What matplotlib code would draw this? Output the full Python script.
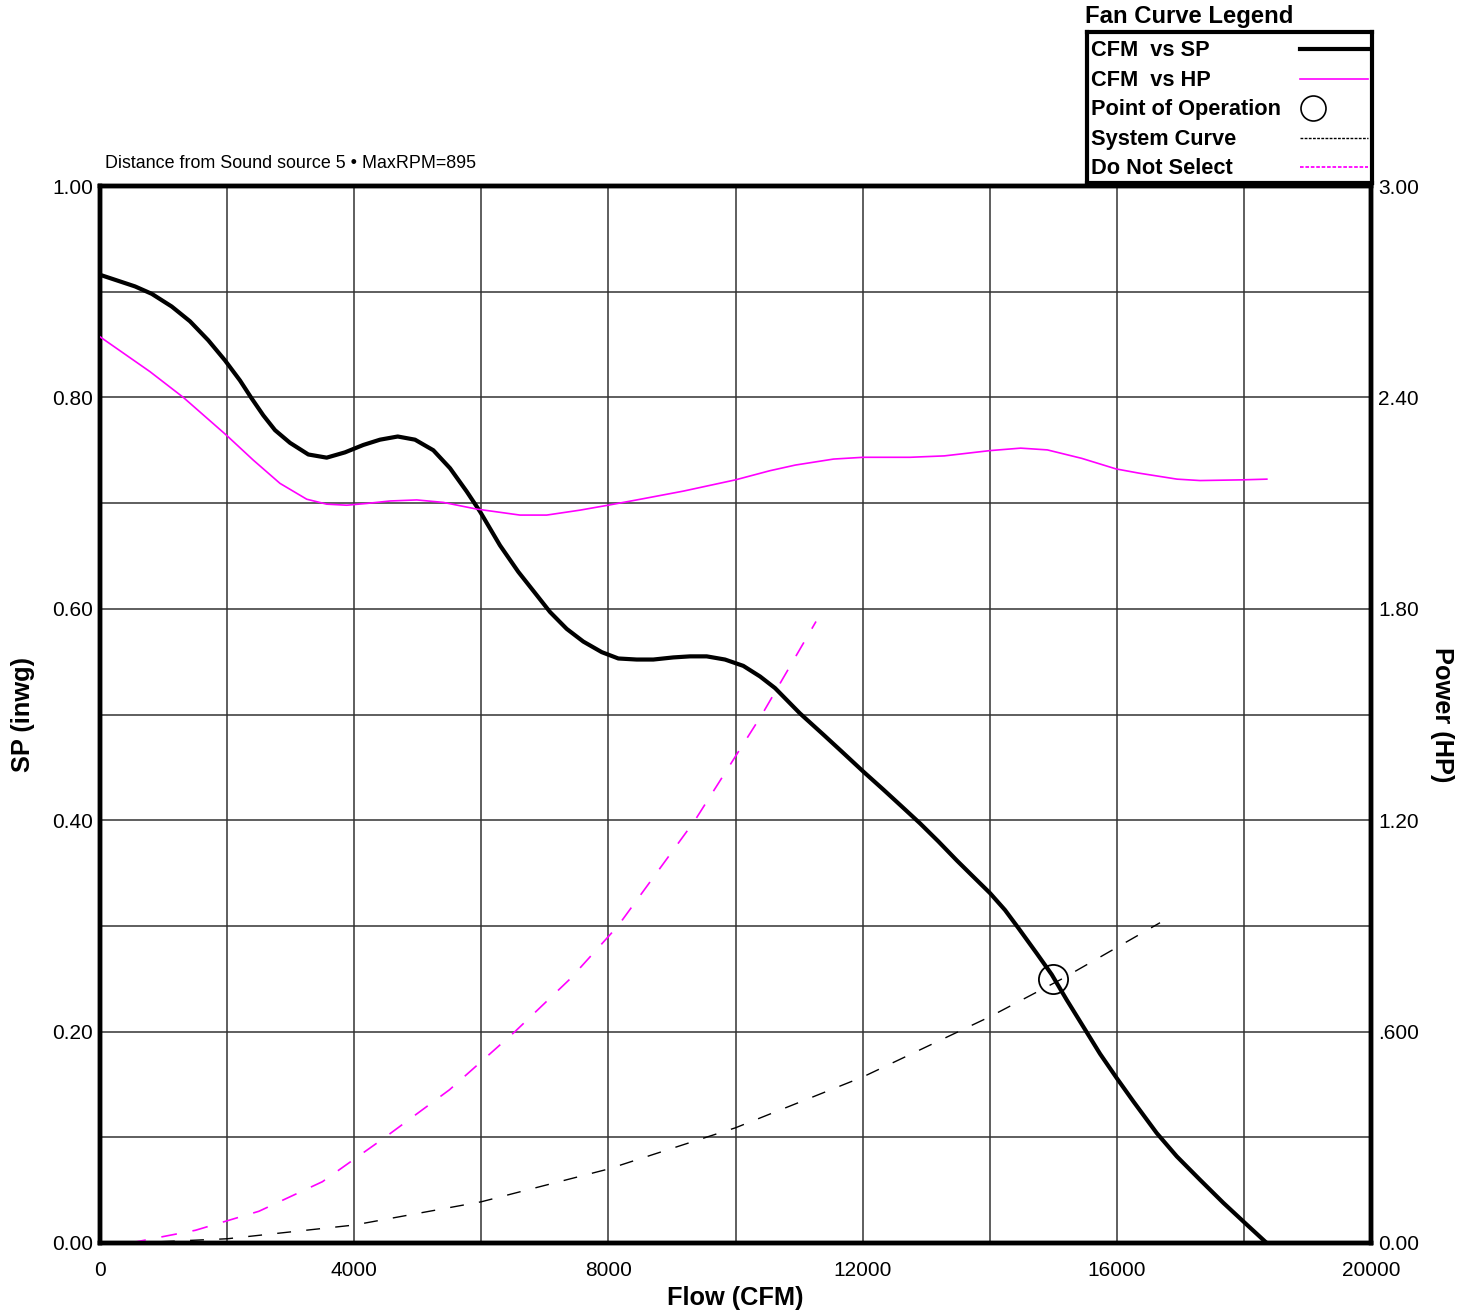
import matplotlib
matplotlib.use("Agg")
import matplotlib.pyplot as plt

plt.rcParams['font.family'] = ['Liberation Sans', 'DejaVu Sans']

# ---- data ----
sp_cfm = [0, 551, 814, 1128, 1416, 1704, 1967, 2203, 2387, 2570, 2754, 2990, 3278, 3567, 3855,
          4143, 4406, 4685, 4957, 5245, 5508, 5770, 5980, 6294, 6582, 6845, 7081, 7344, 7605,
          7895, 8156, 8445, 8707, 9021, 9284, 9547, 9835, 10123, 10386, 10622, 11015, 11382,
          11671, 12011, 12326, 12616, 12904, 13191, 13481, 13717, 14005, 14241, 14451, 14740,
          14976, 15212, 15500, 15736, 15999, 16260, 16628, 16943, 17306, 17676, 18016, 18359]
sp_val = [0.916, 0.905, 0.898, 0.886, 0.872, 0.854, 0.835, 0.816, 0.799, 0.783, 0.769, 0.757,
          0.746, 0.743, 0.748, 0.755, 0.760, 0.763, 0.760, 0.750, 0.733, 0.711, 0.692, 0.660,
          0.635, 0.615, 0.597, 0.581, 0.569, 0.559, 0.553, 0.552, 0.552, 0.554, 0.555, 0.555,
          0.552, 0.546, 0.536, 0.525, 0.501, 0.481, 0.465, 0.446, 0.429, 0.413, 0.397, 0.380,
          0.362, 0.348, 0.331, 0.315, 0.298, 0.274, 0.254, 0.230, 0.202, 0.179, 0.156, 0.134,
          0.104, 0.082, 0.060, 0.038, 0.019, 0.0]

hp_cfm = [0, 787, 1311, 1994, 2412, 2832, 3253, 3567, 3882, 4197, 4563, 4984, 5402, 5928, 6609,
          7029, 7553, 8025, 8446, 9179, 10000, 10543, 10943, 11544, 12007, 12746, 13286, 14005,
          14487, 14907, 15448, 15988, 16350, 16948, 17310, 17971, 18361]
hp_val = [2.572, 2.473, 2.400, 2.292, 2.222, 2.156, 2.111, 2.097, 2.094, 2.099, 2.106, 2.109,
          2.102, 2.083, 2.066, 2.066, 2.080, 2.095, 2.109, 2.134, 2.166, 2.192, 2.208, 2.225,
          2.230, 2.230, 2.234, 2.249, 2.256, 2.251, 2.227, 2.197, 2.185, 2.168, 2.164, 2.166,
          2.168]

sys_cfm = [500, 2000, 4000, 6000, 8000, 10000, 12000, 14000, 15141, 16680]
sys_sp = [0.0, 0.004, 0.017, 0.039, 0.070, 0.109, 0.157, 0.214, 0.250, 0.303]

dns_cfm = [476, 1500, 2500, 3500, 4486, 5500, 6530, 7400, 8151, 9363, 10417, 11267]
dns_sp = [0.0, 0.012, 0.030, 0.058, 0.100, 0.145, 0.200, 0.250, 0.300, 0.400, 0.500, 0.588]

op_cfm = [15000]
op_sp = [0.250]

x_ticks = [0, 4000, 8000, 12000, 16000, 20000]
x_grid = [2000, 6000, 10000, 14000, 18000]
y_ticks = [0.0, 0.2, 0.4, 0.6, 0.8, 1.0]
y_labels = ["0.00", "0.20", "0.40", "0.60", "0.80", "1.00"]
y_grid = [0.1, 0.3, 0.5, 0.7, 0.9]
hp_ticks = [0.0, 0.6, 1.2, 1.8, 2.4, 3.0]
hp_labels = ["0.00", ".600", "1.20", "1.80", "2.40", "3.00"]

legend_labels = ["CFM  vs SP", "CFM  vs HP", "Point of Operation", "System Curve", "Do Not Select"]

MAG = "#ff00ff"

fig = plt.figure(figsize=(14.71, 13.10), dpi=100)
L, R, B, T = 100 / 1471, 1371 / 1471, 1 - 1243 / 1310, 1 - 186 / 1310
ax = fig.add_axes([L, B, R - L, T - B])
ax.set_xlim(0, 20000)
ax.set_ylim(0, 1.0)

for g in x_ticks[1:-1] + x_grid:
    ax.axvline(g, color="#333333", lw=1.1, zorder=1)
for g in y_ticks[1:-1] + y_grid:
    ax.axhline(g, color="#333333", lw=1.1, zorder=1)

ax.plot(sys_cfm, sys_sp, color="black", lw=1.0, ls=(0, (10, 11)), zorder=3)
ax.plot(dns_cfm, dns_sp, color=MAG, lw=1.2, ls=(0, (9.5, 9.5)), zorder=3)
ax.plot(sp_cfm, sp_val, color="black", lw=3.0, zorder=4, solid_joinstyle="round",
        solid_capstyle="butt")
ax.plot(op_cfm, op_sp, "o", ms=21, mfc="none", mec="black", mew=1.3, zorder=5)

ax.set_xticks(x_ticks)
ax.set_xticklabels([str(v) for v in x_ticks])
ax.set_yticks(y_ticks)
ax.set_yticklabels(y_labels)
ax.tick_params(axis="y", length=0, labelsize=15, pad=5)
ax.tick_params(axis="x", length=0, labelsize=15, pad=13)
for s in ax.spines.values():
    s.set_linewidth(3.2)
ax.set_xlabel("Flow (CFM)", fontsize=18.3, fontweight="bold", labelpad=4)
ax.set_ylabel("SP (inwg)", fontsize=18.3, fontweight="bold", labelpad=12)

ax2 = ax.twinx()
ax2.set_ylim(0, 3.0)
ax2.plot(hp_cfm, hp_val, color=MAG, lw=1.2, zorder=3, solid_joinstyle="round")
ax2.set_yticks(hp_ticks)
ax2.set_yticklabels(hp_labels)
ax2.tick_params(length=0, labelsize=15, pad=5)
for s in ax2.spines.values():
    s.set_linewidth(3.2)
ax2.set_ylabel("Power (HP)", fontsize=18.3, fontweight="bold", rotation=270, labelpad=25)

fig.text(105 / 1471, 1 - 164 / 1310, "Distance from Sound source 5 \u2022 MaxRPM=895",
         fontsize=12.9, va="center", ha="left")

# legend box
fig.text(1085 / 1471, 1 - 17 / 1310, "Fan Curve Legend", fontsize=17.2, fontweight="bold",
         va="center", ha="left")
lax = fig.add_axes([1087 / 1471, 1 - 183 / 1310, (1372 - 1087) / 1471, (183 - 32) / 1310])
lax.set_xlim(0, 285)
lax.set_ylim(151, 0)
lax.set_xticks([])
lax.set_yticks([])
for s in lax.spines.values():
    s.set_linewidth(3.0)
rows = [17, 47, 76, 106, 135]
for yv, lab in zip(rows, legend_labels):
    lax.text(4, yv + 1.5, lab, fontsize=15.7, fontweight="bold", va="center", ha="left")
lax.plot([213, 281], [rows[0], rows[0]], color="black", lw=3.0)
lax.plot([213, 281], [rows[1], rows[1]], color=MAG, lw=1.2)
lax.plot([226], [rows[2]], "o", ms=18, mfc="none", mec="black", mew=1.2)
lax.plot([213, 281], [rows[3], rows[3]], color="black", lw=1.0, ls=(0, (2, 1)))
lax.plot([213, 281], [rows[4], rows[4]], color=MAG, lw=1.3, ls=(0, (2, 1)))

fig.savefig("out.png", dpi=100)
